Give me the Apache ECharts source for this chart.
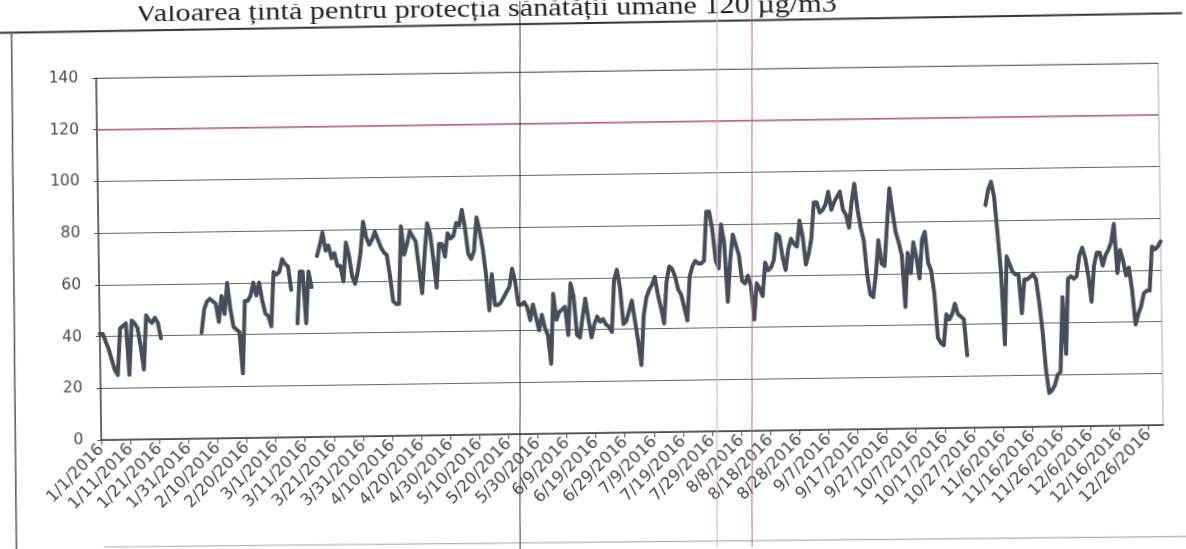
<!DOCTYPE html>
<html>
<head>
<meta charset="utf-8">
<script src="https://cdn.jsdelivr.net/npm/echarts@6/dist/echarts.min.js"></script>
<style>
html,body{margin:0;padding:0;background:#fff;overflow:hidden;}
#c{width:1186px;height:549px;transform:rotate(-0.81deg);transform-origin:50% 50%;}
</style>
</head>
<body>
<div id="c"></div>
<script>
// Daily values for 2016 (µg/m3); null = no data
const jan = [41,41,38,35,31,27,25,43,44,45,25,46,45,43,36,27,48,46,45,47,45,39,null,null,null,null,null,null,null,null,null];
const feb = [null,null,null,null,41,50,53,54,53,52,45,55,48,60,50,43,42,41,25,53,53,55,60,55,60,53,48,47,43];
const mar = [64,63,64,69,67,66,57,null,44,64,64,44,64,58,null,70,74,79,72,74,69,71,66,66,60,75,70,62,59,64,71];
const apr = [83,77,74,76,79,76,73,71,70,62,52,51,51,81,70,74,79,77,75,65,55,70,82,78,68,57,74,74,69,78];
const may = [76,77,82,81,87,80,70,68,71,84,79,72,62,48,62,50,50,51,53,55,57,64,59,50,50,51,49,44,50,45,40];
const jun = [46,41,38,27,54,44,47,48,49,38,58,53,38,37,45,52,44,37,42,45,43,44,42,41,39,59,63,56,42,43];
const jul = [47,51,43,35,26,45,52,55,57,60,53,48,42,58,64,63,60,55,53,48,43,60,64,66,65,65,66,85,85,78,66];
const aug = [63,80,73,50,66,76,72,68,58,57,60,56,43,57,55,52,65,62,63,66,76,75,67,62,70,74,72,71,81,75,64];
const sep = [68,74,88,88,84,85,87,92,85,88,90,92,85,83,78,88,95,85,78,73,60,52,51,60,73,64,63,78,93,84];
const oct = [76,72,67,47,68,60,72,66,58,73,76,64,61,52,35,33,32,44,42,44,48,44,43,42,28,null,null,null,null,null,null];
const nov = [86,92,95,89,75,60,32,66,63,60,59,59,44,57,57,58,59,57,48,37,22,13,14,16,20,21,50,28,57,58];
const dec = [57,58,66,69,65,58,48,62,67,67,62,66,68,71,78,59,68,64,58,61,52,39,43,46,51,52,52,69,68,69,71];
const values = [].concat(jan, feb, mar, apr, may, jun, jul, aug, sep, oct, nov, dec);

const targetValue = 120;
const yTicks = [0, 20, 40, 60, 80, 100, 120, 140];
const titleText = 'Valoarea țintă pentru protecția sănătății umane 120 µg/m3';

// category labels: every day of 2016 as M/D/YYYY
const categories = [];
{
  const d = new Date(2016, 0, 1);
  for (let k = 0; k < values.length; k++) {
    categories.push((d.getMonth() + 1) + '/' + d.getDate() + '/' + d.getFullYear());
    d.setDate(d.getDate() + 1);
  }
}

const chart = echarts.init(document.getElementById('c'), null, {renderer: 'canvas'});
chart.setOption({
  animation: false,
  backgroundColor: '#fff',
  grid: {left: 99, right: 25, top: 71, bottom: 116, show: true, borderColor: '#aaa', borderWidth: 1},
  xAxis: {
    type: 'category',
    data: categories,
    boundaryGap: false,
    axisLine: {lineStyle: {color: '#444', width: 1.5}},
    axisTick: {interval: 9, length: 5, lineStyle: {color: '#555'}},
    axisLabel: {interval: 9, rotate: 45, margin: 7, color: '#4a4a4a', fontSize: 16.5, fontFamily: 'DejaVu Sans'},
    splitLine: {show: false}
  },
  yAxis: {
    type: 'value',
    min: yTicks[0], max: yTicks[yTicks.length - 1], interval: 20,
    axisLine: {show: true, lineStyle: {color: '#444', width: 1.5}},
    axisTick: {show: true, length: 4, lineStyle: {color: '#555'}},
    axisLabel: {margin: 18, color: '#4a4a4a', fontSize: 15.5, fontFamily: 'DejaVu Sans'},
    splitLine: {lineStyle: {color: '#666', width: 1.2}}
  },
  series: [{
    type: 'line',
    data: values,
    showSymbol: false,
    connectNulls: false,
    lineStyle: {color: '#474d59', width: 4, join: 'round', cap: 'round'},
    markLine: {
      silent: true, symbol: 'none',
      label: {show: false},
      lineStyle: {color: '#cc6a82', width: 1.5, type: 'solid'},
      data: [{yAxis: targetValue}]
    }
  }],
  graphic: [
    {type: 'text', x: 139, y: 21, scaleX: 1.163, z: 10,
     style: {text: titleText, fontSize: 26, fontFamily: 'Liberation Serif', fill: '#222', align: 'left', verticalAlign: 'bottom'}},
    {type: 'line', shape: {x1: 3, y1: 24.6, x2: 1195, y2: 21.4}, style: {stroke: '#333', lineWidth: 2}},
    {type: 'line', shape: {x1: 15, y1: 24, x2: 12.5, y2: 555}, style: {stroke: '#555', lineWidth: 1.5}},
    {type: 'line', shape: {x1: 100, y1: 540, x2: 1195, y2: 545}, style: {stroke: '#aaa', lineWidth: 1.2}},
    {type: 'line', shape: {x1: 523.9, y1: -5, x2: 516.1, y2: 555}, style: {stroke: '#3a3a3a', lineWidth: 1}, z: 20},
    {type: 'line', shape: {x1: 720.9, y1: -5, x2: 713.1, y2: 555}, style: {stroke: '#e3a6d6', lineWidth: 1}, z: 20},
    {type: 'line', shape: {x1: 755.9, y1: -5, x2: 748.1, y2: 555}, style: {stroke: '#d0607e', lineWidth: 1}, z: 20}
  ]
});
</script>
</body>
</html>
